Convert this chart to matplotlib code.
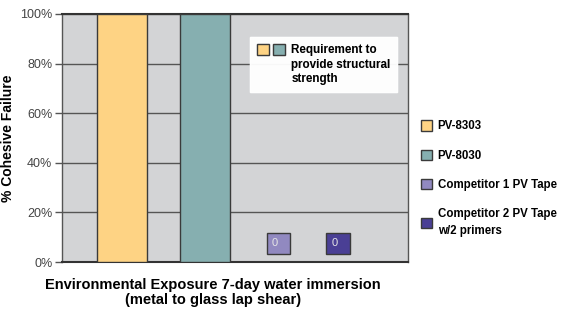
#!/usr/bin/env python3
import matplotlib
matplotlib.use("Agg")
import matplotlib.pyplot as plt
from matplotlib.patches import Patch
from matplotlib.legend_handler import HandlerTuple

# data
products = ["PV-8303", "PV-8030", "Competitor 1 PV Tape",
            "Competitor 2 PV Tape\nw/2 primers"]
cohesive_failure = [100, 100, 0, 0]
yticks = [0, 20, 40, 60, 80, 100]
ytick_labels = ["0%", "20%", "40%", "60%", "80%", "100%"]

# layout / style
x_pos = [0.72, 1.72, 2.61, 3.33]
bar_width = 0.6
colors = ["#fed384", "#86afb0", "#9189c0", "#4a3f95"]
edge = "#3a3a3a"

plt.rcParams["font.family"] = ["Liberation Sans", "DejaVu Sans"]

fig = plt.figure(figsize=(5.64, 3.14), dpi=100)
ax = fig.add_axes([0.110, 0.1656, 0.613, 0.790])
ax.set_facecolor("#d3d4d6")

ax.bar(x_pos, cohesive_failure, width=bar_width, color=colors,
       edgecolor=edge, linewidth=1.0, zorder=3)

# zero-value bars shown as small labelled boxes
for x, v, c in zip(x_pos, cohesive_failure, colors):
    if v == 0:
        ax.annotate(f"{v}  ", xy=(x, v), xytext=(0, 9.8),
                    textcoords="offset points", ha="center", va="bottom",
                    fontsize=8, color="#e6e6e6", zorder=4,
                    bbox=dict(boxstyle="square,pad=0.5", fc=c,
                              ec=edge, lw=1.0))

ax.set_xlim(0, 4.17)
ax.set_ylim(0, 100)
ax.set_yticks(yticks)
ax.set_yticklabels(ytick_labels)
ax.set_xticks([])
ax.yaxis.grid(True, color="#555555", linewidth=1.0, zorder=1)
ax.tick_params(axis="y", length=5, width=1.0, color="#555555",
               labelsize=9, labelcolor="#444444", pad=2)
for side in ["top", "bottom"]:
    ax.spines[side].set_color("#333333")
    ax.spines[side].set_linewidth(1.5)
for side in ["left", "right"]:
    ax.spines[side].set_color("#555555")
    ax.spines[side].set_linewidth(1.0)

ax.set_ylabel("% Cohesive Failure", fontsize=10, fontweight="bold")
ax.yaxis.set_label_coords(-0.135, 0.5)
fig.text(0.378, 0.115, "Environmental Exposure 7-day water immersion\n"
         "(metal to glass lap shear)", ha="center", va="top",
         fontsize=10.5, fontweight="bold", linespacing=1.1)

# inner note legend
req = ax.legend([(Patch(fc=colors[0], ec=edge), Patch(fc=colors[1], ec=edge))],
                ["Requirement to\nprovide structural\nstrength"],
                handler_map={tuple: HandlerTuple(ndivide=None, pad=0.35)},
                loc="upper left", bbox_to_anchor=(0.543, 0.907),
                borderaxespad=0, frameon=True, fancybox=False,
                prop=dict(size=8.4, weight="bold"), handlelength=2.4,
                handleheight=1.1, handletextpad=0.55, borderpad=0.6)
req.get_frame().set_facecolor("white")
req.get_frame().set_edgecolor("white")
for t in req.get_texts():
    t.set_linespacing(1.3)
# put the swatches next to the first line of text
for col in req._legend_handle_box.get_children():
    for item in col.get_children():
        item.align = "top"
ax.add_artist(req)

# product legend on the right
handles = [Patch(fc=c, ec=edge) for c in colors]
leg = fig.legend(handles, products, loc="upper left",
                 bbox_to_anchor=(0.728, 0.65), frameon=False,
                 prop=dict(size=8.3, weight="bold"), handlelength=1.0,
                 handleheight=1.0, handletextpad=0.45, labelspacing=1.5)
for t in leg.get_texts():
    t.set_linespacing(1.45)

fig.savefig("out.png", dpi=100)
